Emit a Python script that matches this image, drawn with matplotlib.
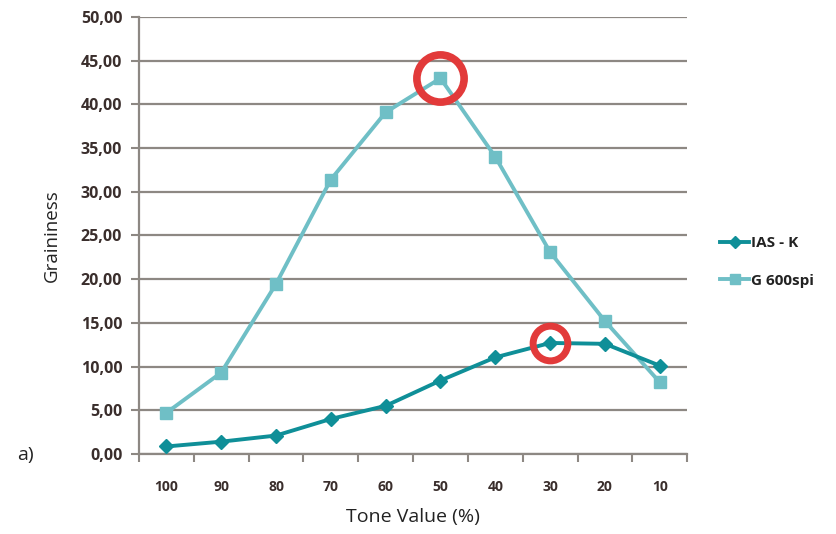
import matplotlib
matplotlib.use("Agg")
import matplotlib.pyplot as plt
import numpy as np

tone_values = ["100", "90", "80", "70", "60", "50", "40", "30", "20", "10"]
ias_k = [0.85, 1.4, 2.1, 4.0, 5.5, 8.4, 11.05, 12.7, 12.6, 10.1]
g600spi = [4.7, 9.3, 19.45, 31.4, 39.1, 43.0, 34.0, 23.1, 15.2, 8.2]

dark_teal = "#0f8f98"
light_teal = "#6fbfc6"
grid_col = "#8d8883"
text_col = "#3a2e2c"

plt.rcParams["font.family"] = ["Open Sans", "DejaVu Sans"]

fig = plt.figure(figsize=(8.37, 5.34), dpi=100)
ax = fig.add_axes([0.166, 0.15, 0.655, 0.818])

x = np.arange(len(tone_values))
ax.plot(x, ias_k, color=dark_teal, lw=2.8, marker="D", ms=7,
        label="IAS - K", zorder=4)
ax.plot(x, g600spi, color=light_teal, lw=2.8, marker="s", ms=9,
        label="G 600spi", zorder=3)

# red rings around the peak of each series
i_g = int(np.argmax(g600spi))
i_k = int(np.argmax(ias_k))
ax.plot(x[i_g], g600spi[i_g], marker="o", ms=34, mfc="none", mec="#e23a3a",
        mew=5.5, zorder=5, clip_on=False)
ax.plot(x[i_k], ias_k[i_k], marker="o", ms=25, mfc="none", mec="#e23a3a",
        mew=5, zorder=5)

ax.set_xlim(-0.5, len(tone_values) - 0.5)
ax.set_ylim(0, 50)
ax.set_yticks(np.arange(0, 51, 5))
ax.set_yticklabels([f"{v:.2f}".replace(".", ",") for v in range(0, 51, 5)])
ax.set_xticks(x)
ax.set_xticklabels(tone_values)
ax.set_xticks(np.arange(-0.5, len(tone_values)), minor=True)
ax.tick_params(axis="x", which="major", length=0, pad=19)
ax.tick_params(axis="x", which="minor", length=6, width=1.5, color=grid_col)
ax.tick_params(axis="y", length=6, width=1.5, color=grid_col, pad=6)
for lab in ax.get_yticklabels():
    lab.set_fontsize(11.5)
    lab.set_fontweight("bold")
    lab.set_color(text_col)
for lab in ax.get_xticklabels():
    lab.set_fontsize(10)
    lab.set_fontweight("bold")
    lab.set_color(text_col)

ax.grid(axis="y", color=grid_col, lw=1.6)
ax.set_axisbelow(True)
for side in ["top", "right"]:
    ax.spines[side].set_visible(False)
for side in ["left", "bottom"]:
    ax.spines[side].set_color(grid_col)
    ax.spines[side].set_linewidth(1.6)

ax.set_ylabel("Graininess", fontsize=13.5, color="#222222", labelpad=14)
ax.set_xlabel("Tone Value (%)", fontsize=14, color="#222222", labelpad=10)

leg = ax.legend(loc="upper left", bbox_to_anchor=(1.035, 0.53), frameon=False,
                fontsize=11, handlelength=1.9, handletextpad=0.1,
                labelspacing=1.55, markerscale=0.85)
for t in leg.get_texts():
    t.set_fontweight("bold")
    t.set_color("#222222")

fig.text(0.02, 0.148, "a)", fontsize=14, color="#222222", va="center")

fig.savefig("out.png", dpi=100)
